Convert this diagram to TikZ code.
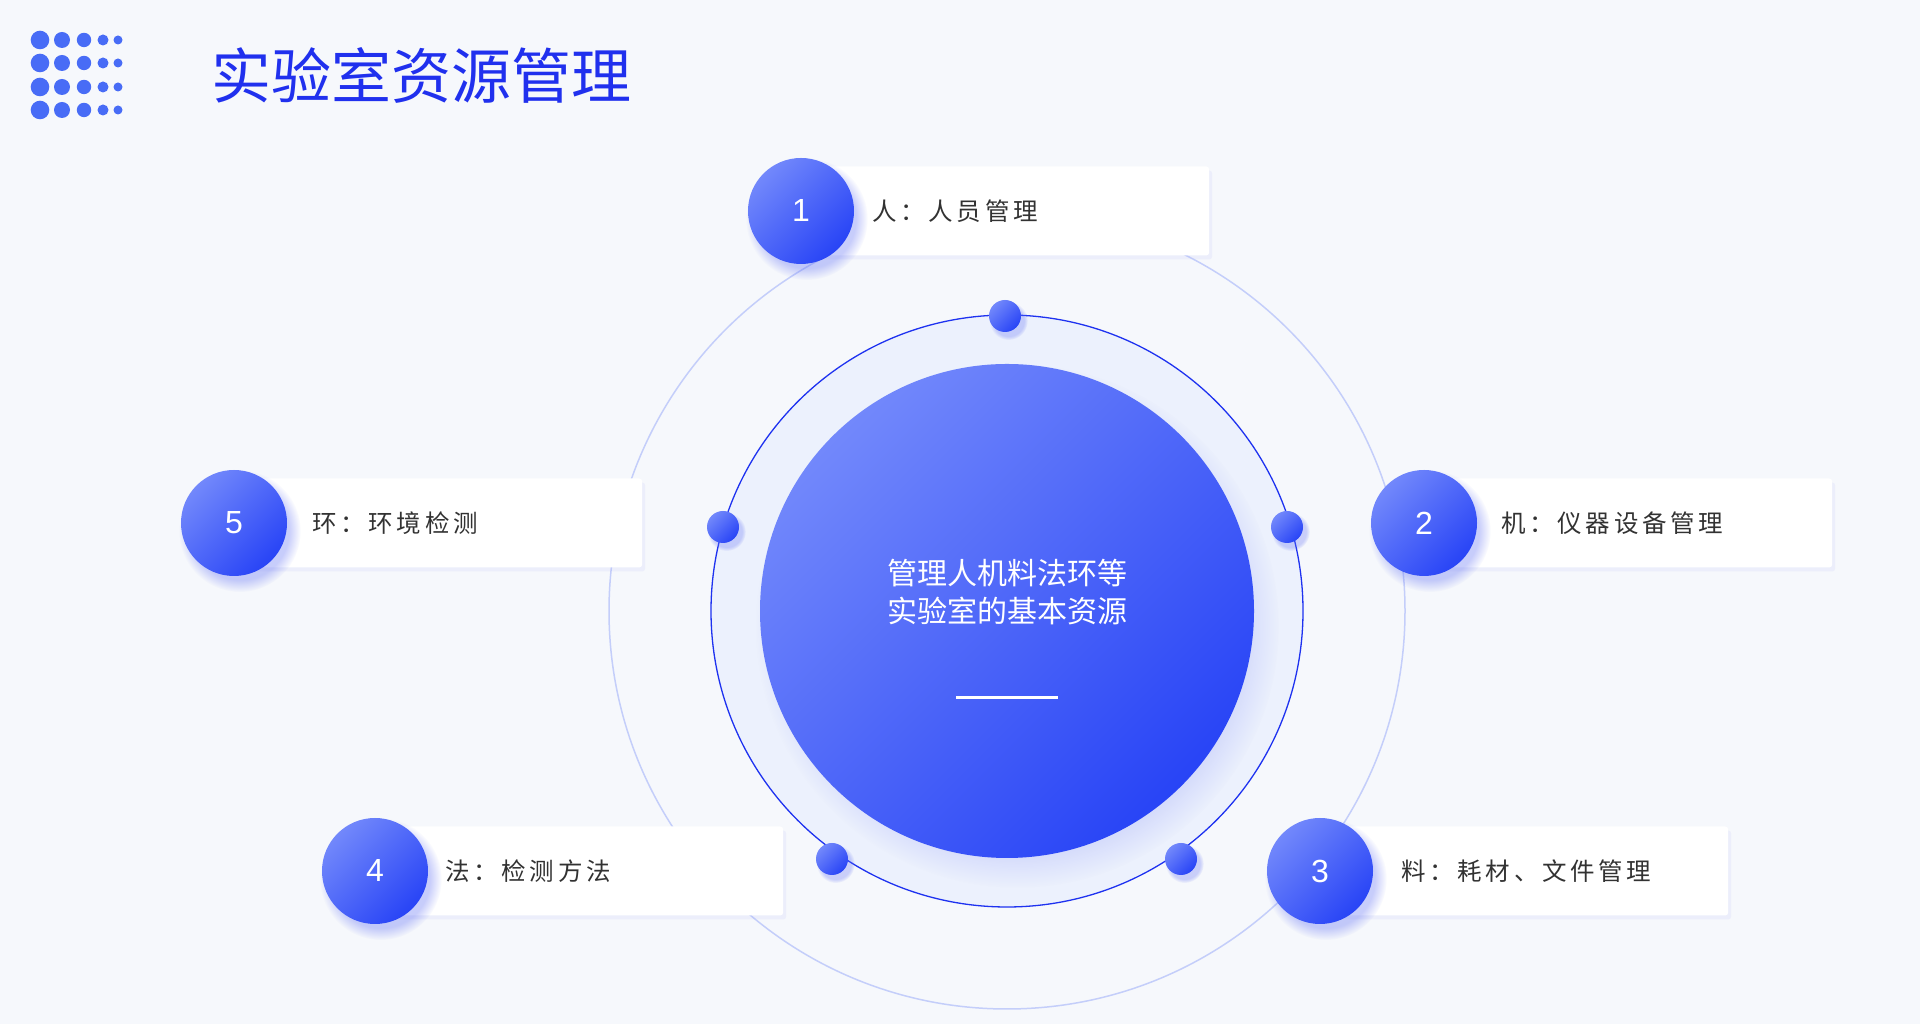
\documentclass[tikz,border=0pt]{standalone}
\usepackage{fontspec}
\setmainfont{Liberation Sans}
\newfontfamily\cjk{Noto Sans CJK SC}
\newfontfamily\cjkitem[LetterSpace=15]{Noto Sans CJK SC}
\usetikzlibrary{positioning,shadows}
\definecolor{bggray}{RGB}{246,248,252}
\definecolor{dotblue}{RGB}{72,108,246}
\definecolor{titleblue}{RGB}{32,48,238}
\definecolor{ringblue}{RGB}{30,50,240}
\definecolor{lightring}{RGB}{196,206,250}
\definecolor{paleblue}{RGB}{236,241,253}
\definecolor{ballhi}{RGB}{114,136,251}
\definecolor{balllo}{RGB}{40,68,246}
\definecolor{itemgray}{RGB}{50,50,50}
\tikzset{
	title/.style={inner sep=0pt, text=titleblue, font=\cjk\fontsize{60}{60}\selectfont},
	ball/.style={circle, inner sep=0pt, minimum size=106pt, top color=ballhi, bottom color=balllo, shading angle=45,
		text=white, font=\fontsize{32}{32}\selectfont,
		circular drop shadow={shadow xshift=5pt, shadow yshift=-7pt, shadow scale=1.15, fill=ringblue!70, opacity=0.35,
			path fading=circle with fuzzy edge 20 percent}},
	knob/.style={circle, inner sep=0pt, minimum size=32pt, top color=ballhi, bottom color=balllo, shading angle=45,
		circular drop shadow={shadow xshift=3pt, shadow yshift=-4pt, shadow scale=1.2, fill=ringblue!70, opacity=0.3,
			path fading=circle with fuzzy edge 20 percent}},
	core/.style={circle, inner sep=0pt, minimum size=494pt, top color=ballhi, bottom color=balllo, shading angle=45,
		circular drop shadow={shadow xshift=10pt, shadow yshift=-14pt, shadow scale=1.06, fill=ringblue!60, opacity=0.3,
			path fading=circle with fuzzy edge 20 percent}},
	panel/.style={rectangle, fill=white, minimum width=408pt, minimum height=89pt, rounded corners=3pt,
		drop shadow={shadow xshift=3pt, shadow yshift=-4pt, fill=ringblue!40, opacity=0.12}},
	item/.style={inner sep=0pt, text=itemgray, font=\cjkitem\fontsize{24.5}{28}\selectfont},
	coretext/.style={inner sep=0pt, align=center, text=white, font=\cjk\fontsize{30}{38}\selectfont}
}
\begin{document}
\begin{tikzpicture}[x=1pt,y=1pt]
		% page
			\fill [bggray] (0,0) rectangle (1920,1024);
			\useasboundingbox (0,0) rectangle (1920,1024);
		% dot grid
			\foreach \col/\r in {40/9.3,62/8,84/7.2,103/5.5,118/4.5}
				\foreach \row in {984,961,937,914}
					\fill [dotblue] (\col,\row) circle (\r);
		% title
			\node [title, anchor=west] (title) at (211,949) {实验室资源管理};
		% rings
			\def\ringr{296}
			\coordinate (c) at (1007,413);
			\draw [lightring, line width=1.5pt] (c) circle (398);
			\filldraw [fill=paleblue, draw=ringblue, line width=1.3pt] (c) circle (\ringr);
			\foreach \x/\y [count=\i] in {1005/708,1287/497,1181/165,832/165,723/497}
				\node [knob] (d\i) at (\x,\y) {};
		% core
			\node [core] (core) at (c) {};
			\node [coretext] (corelabel) at ([yshift=19pt]core.center) {管理人机料法环等\\实验室的基本资源};
			\coordinate (rule-l) at ([xshift=-51pt,yshift=-87pt]core.center);
			\coordinate (rule-r) at ([xshift=51pt,yshift=-87pt]core.center);
			\draw [white, line width=3pt] (rule-l) -- (rule-r);
		% items
			\node [panel, anchor=west] (b1) at (801,813) {};
			\node [ball] (n1) at (801,813) {1};
			\node [item, right=18pt of n1] (t1) {人：人员管理};
			\node [panel, anchor=west] (b2) at (1424,501) {};
			\node [ball] (n2) at (1424,501) {2};
			\node [item, right=24pt of n2] (t2) {机：仪器设备管理};
			\node [panel, anchor=west] (b3) at (1320,153) {};
			\node [ball] (n3) at (1320,153) {3};
			\node [item, right=28pt of n3] (t3) {料：耗材、文件管理};
			\node [panel, anchor=west] (b4) at (375,153) {};
			\node [ball] (n4) at (375,153) {4};
			\node [item, right=17pt of n4] (t4) {法：检测方法};
			\node [panel, anchor=west] (b5) at (234,501) {};
			\node [ball] (n5) at (234,501) {5};
			\node [item, right=25pt of n5] (t5) {环：环境检测};
	\end{tikzpicture}
\end{document}
